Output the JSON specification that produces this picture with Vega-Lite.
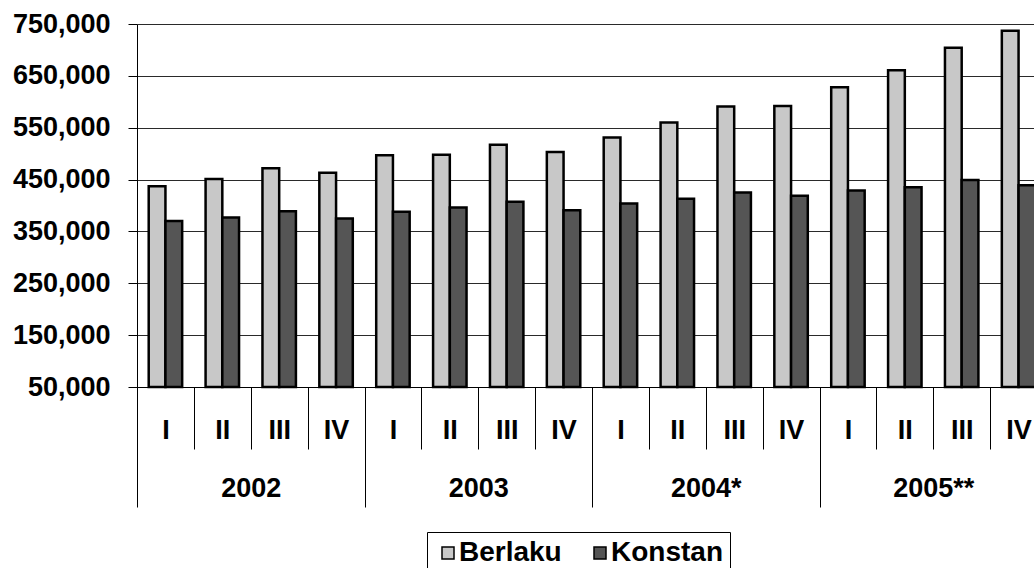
{
  "$schema": "https://vega.github.io/schema/vega-lite/v6.json",
  "width": 910,
  "height": 363,
  "autosize": {"type": "none"},
  "padding": {"left": 137, "top": 24, "right": 0, "bottom": 181},
  "background": "white",
  "config": {
    "view": {"stroke": null},
    "font": "Liberation Sans",
    "axis": {"labelFont": "Liberation Sans", "labelFontWeight": "bold", "labelFontSize": 27, "labelColor": "black"}
  },
  "datasets": {
    "bars": [
      {"period": "2002|I", "series": "Berlaku", "value": 437000},
      {"period": "2002|I", "series": "Konstan", "value": 370000},
      {"period": "2002|II", "series": "Berlaku", "value": 451000},
      {"period": "2002|II", "series": "Konstan", "value": 377000},
      {"period": "2002|III", "series": "Berlaku", "value": 472000},
      {"period": "2002|III", "series": "Konstan", "value": 389000},
      {"period": "2002|IV", "series": "Berlaku", "value": 463000},
      {"period": "2002|IV", "series": "Konstan", "value": 375000},
      {"period": "2003|I", "series": "Berlaku", "value": 497000},
      {"period": "2003|I", "series": "Konstan", "value": 388000},
      {"period": "2003|II", "series": "Berlaku", "value": 498000},
      {"period": "2003|II", "series": "Konstan", "value": 396000},
      {"period": "2003|III", "series": "Berlaku", "value": 517000},
      {"period": "2003|III", "series": "Konstan", "value": 407000},
      {"period": "2003|IV", "series": "Berlaku", "value": 503000},
      {"period": "2003|IV", "series": "Konstan", "value": 391000},
      {"period": "2004*|I", "series": "Berlaku", "value": 531000},
      {"period": "2004*|I", "series": "Konstan", "value": 404000},
      {"period": "2004*|II", "series": "Berlaku", "value": 560000},
      {"period": "2004*|II", "series": "Konstan", "value": 413000},
      {"period": "2004*|III", "series": "Berlaku", "value": 591000},
      {"period": "2004*|III", "series": "Konstan", "value": 425000},
      {"period": "2004*|IV", "series": "Berlaku", "value": 592000},
      {"period": "2004*|IV", "series": "Konstan", "value": 419000},
      {"period": "2005**|I", "series": "Berlaku", "value": 628000},
      {"period": "2005**|I", "series": "Konstan", "value": 429000},
      {"period": "2005**|II", "series": "Berlaku", "value": 661000},
      {"period": "2005**|II", "series": "Konstan", "value": 435000},
      {"period": "2005**|III", "series": "Berlaku", "value": 704000},
      {"period": "2005**|III", "series": "Konstan", "value": 449000},
      {"period": "2005**|IV", "series": "Berlaku", "value": 737000},
      {"period": "2005**|IV", "series": "Konstan", "value": 439000}
    ],
    "years": [
      {"year": "2002"},
      {"year": "2003"},
      {"year": "2004*"},
      {"year": "2005**"}
    ]
  },
  "layer": [
    {
      "data": {"name": "bars"},
      "mark": {"type": "bar", "stroke": "black", "strokeWidth": 2.5},
      "encoding": {
        "x": {
          "field": "period", "type": "nominal", "sort": null,
          "scale": {"paddingInner": 0, "paddingOuter": 0},
          "axis": {
            "title": null, "orient": "bottom",
            "labelExpr": "split(datum.label, '|')[1]",
            "labelAngle": 0, "tickBand": "extent", "tickSize": 62,
            "tickColor": "black", "tickWidth": 1,
            "domainColor": "black", "domainWidth": 1,
            "labelPadding": -19, "labelBaseline": "middle", "grid": false
          }
        },
        "xOffset": {
          "field": "series", "type": "nominal", "sort": ["Berlaku", "Konstan"],
          "scale": {"paddingInner": 0, "paddingOuter": 0.7}
        },
        "y": {
          "field": "value", "type": "quantitative",
          "scale": {"domain": [50000, 750000], "zero": false, "nice": false},
          "axis": {
            "title": null,
            "values": [50000, 150000, 250000, 350000, 450000, 550000, 650000, 750000],
            "format": ",d", "tickSize": 9, "tickColor": "black", "labelPadding": 18,
            "domainColor": "black", "domainWidth": 1,
            "grid": true, "gridColor": "#2a2a2a", "gridWidth": 1
          }
        },
        "y2": {"datum": 50000},
        "color": {
          "field": "series", "type": "nominal",
          "scale": {"domain": ["Berlaku", "Konstan"], "range": ["#c8c8c8", "#555555"]},
          "legend": {
            "title": null, "orient": "none", "legendX": 290, "legendY": 508,
            "direction": "horizontal", "padding": 7,
            "strokeColor": "black", "fillColor": "white",
            "symbolType": "square", "symbolSize": 144,
            "symbolStrokeColor": "black", "symbolStrokeWidth": 1.5, "symbolOpacity": 1,
            "labelFontSize": 28, "labelFontWeight": "bold", "labelFont": "Liberation Sans",
            "labelColor": "black", "labelOffset": -3, "columnPadding": 24
          }
        }
      }
    },
    {
      "data": {"name": "years"},
      "mark": {"type": "point", "opacity": 0},
      "encoding": {
        "x": {
          "field": "year", "type": "nominal", "sort": null,
          "scale": {"paddingInner": 0, "paddingOuter": 0},
          "axis": {
            "title": null, "orient": "bottom", "tickBand": "extent", "tickSize": 120,
            "tickColor": "black", "tickWidth": 1, "domain": false,
            "labelPadding": -19, "labelBaseline": "middle", "labelAngle": 0, "grid": false
          }
        }
      }
    }
  ],
  "resolve": {"scale": {"x": "independent"}, "axis": {"x": "independent"}}
}
